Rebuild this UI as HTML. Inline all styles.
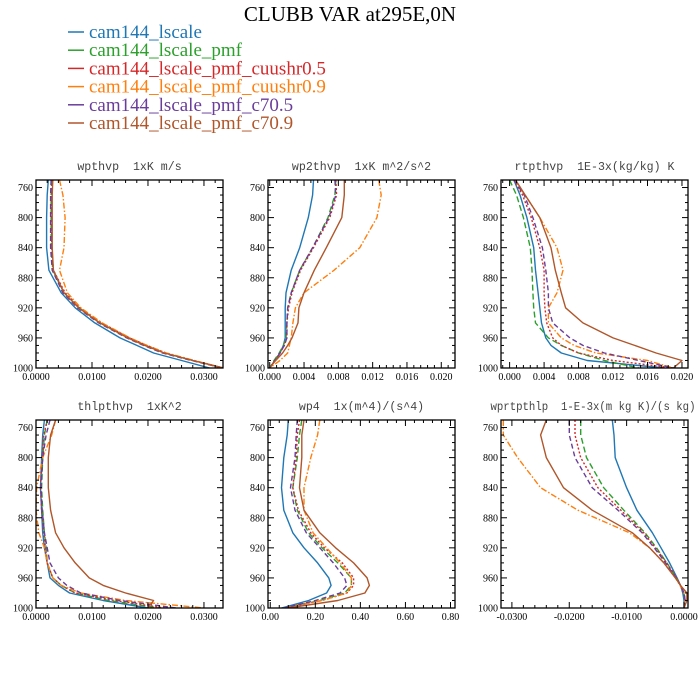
<!DOCTYPE html>
<html><head><meta charset="utf-8"><style>
html,body{margin:0;padding:0;background:#fff;}
svg{display:block;}
.tl{font-family:"Liberation Serif",serif;font-size:10px;fill:#000;}
.pt{font-family:"Liberation Mono","DejaVu Sans Mono",monospace;font-size:11.6px;fill:#444;white-space:pre;}
.lg{font-family:"Liberation Serif",serif;font-size:19px;}
</style></head><body>
<svg id="chart" width="700" height="700" xmlns="http://www.w3.org/2000/svg">
<text x="350" y="21" text-anchor="middle" font-family="Liberation Serif, serif" font-size="21">CLUBB VAR at295E,0N</text>
<g id="legend"></g>
<g id="panels"></g>
</svg>
<script>
const levels=[750,770,800,840,870,900,920,940,960,970,980,990,1000];
const seriesNames=["cam144_lscale","cam144_lscale_pmf","cam144_lscale_pmf_cuushr0.5","cam144_lscale_pmf_cuushr0.9","cam144_lscale_pmf_c70.5","cam144_lscale_pmf_c70.9"];
const colors=["#1f77b4","#2ca02c","#d62728","#ff7f0e","#6a3d9a","#b0562a"];
const dashes=["","6,3","2,2","6,2,1.5,2","5,3","" ];
const panelTitles=["wpthvp  1xK m/s","wp2thvp  1xK m^2/s^2","rtpthvp  1E-3x(kg/kg) K","thlpthvp  1xK^2","wp4  1x(m^4)/(s^4)","wprtpthlp  1-E-3x(m kg K)/(s kg)"];
const xTickVals=[[0,0.01,0.02,0.03],[0,0.004,0.008,0.012,0.016,0.02],[0,0.004,0.008,0.012,0.016,0.02],[0,0.01,0.02,0.03],[0,0.2,0.4,0.6,0.8],[-0.03,-0.02,-0.01,0]];
const xTickLabels=[["0.0000","0.0100","0.0200","0.0300"],["0.000","0.004","0.008","0.012","0.016","0.020"],["0.000","0.004","0.008","0.012","0.016","0.020"],["0.0000","0.0100","0.0200","0.0300"],["0.00","0.20","0.40","0.60","0.80"],["-0.0300","-0.0200","-0.0100","0.0000"]];
const yTickVals=[760,800,840,880,920,960,1000];
// panel 1 wpthvp
const p1blue=[.0022,.002,.0019,.0019,.0023,.0045,.007,.0105,.015,.018,.021,.026,.031];
const p1green=[.0028,.0027,.0027,.0027,.003,.005,.0077,.0115,.0165,.0195,.023,.028,.0335];
const p1red=[.0029,.0028,.0028,.0028,.0031,.0052,.0079,.0117,.0167,.0198,.0232,.0282,.0335];
const p1orange=[.0042,.0048,.0052,.005,.0042,.0056,.008,.0118,.0168,.0198,.0233,.0283,.0335];
const p1purple=[.0027,.0026,.0026,.0026,.0029,.0048,.0074,.0112,.0162,.0192,.0226,.0278,.0333];
const p1brown=[.003,.0029,.0029,.0029,.0031,.005,.0076,.0114,.0164,.0194,.0229,.028,.0334];
// panel 2 wp2thvp
const p2blue=[.0051,.005,.0045,.0035,.0025,.0019,.0018,.0018,.0018,.0016,.0012,.0006,0];
const p2green=[.0077,.0076,.0068,.005,.0035,.0025,.0021,.002,.0019,.0016,.0011,.0005,0];
const p2red=[.0077,.0078,.007,.0051,.0036,.0026,.0022,.002,.002,.0017,.0012,.0006,0];
const p2orange=[.0127,.013,.0125,.0105,.0075,.004,.003,.0027,.0025,.0023,.0021,.0012,0];
const p2purple=[.0076,.0077,.0069,.005,.0035,.0025,.0021,.002,.002,.0017,.0012,.0006,0];
const p2brown=[.0087,.0087,.0084,.0066,.0052,.004,.0034,.0033,.0026,.0021,.0015,.0007,0];
// panel 3 rtpthvp
const p3blue=[.0005,.0012,.002,.0028,.003,.0033,.0035,.0037,.0042,.0048,.006,.009,.018];
const p3green=[0,.0008,.0016,.0024,.0026,.0027,.0028,.003,.0045,.006,.008,.011,.015];
const p3red=[.0005,.0015,.0025,.0035,.004,.004,.0041,.0043,.005,.006,.008,.012,.019];
const p3orange=[.0005,.0018,.0035,.0055,.0062,.0055,.0045,.0045,.006,.0075,.01,.016,.019];
const p3purple=[.0005,.0017,.0027,.0038,.0042,.0045,.0045,.005,.007,.0085,.011,.015,.019];
const p3brown=[.0007,.0018,.0035,.0048,.0053,.006,.0065,.0085,.012,.0145,.017,.02,.019];
// panel 4 thlpthvp
const p4blue=[.0015,.0012,.001,.0008,.001,.0012,.0015,.002,.0025,.004,.006,.012,.02];
const p4green=[.002,.0015,.0012,.001,.0012,.0015,.0018,.002,.003,.0045,.007,.013,.022];
const p4red=[.002,.0014,.0011,.0008,.001,.0014,.0017,.002,.003,.0045,.007,.014,.023];
const p4orange=[.0035,.0028,.0012,.0001,0,.0005,.0015,.002,.003,.0045,.008,.016,.03];
const p4purple=[.0025,.0018,.0012,.0009,.0011,.0015,.002,.0025,.004,.0055,.008,.015,.025];
const p4brown=[.0035,.0026,.0022,.0022,.0026,.0035,.005,.007,.0095,.012,.016,.021,.02];
// panel 5 wp4
const p5blue=[.08,.075,.06,.05,.06,.1,.15,.21,.26,.27,.25,.17,.05];
const p5green=[.14,.13,.12,.1,.12,.17,.23,.3,.36,.36,.33,.22,.06];
const p5red=[.13,.12,.115,.1,.125,.18,.24,.32,.37,.37,.34,.23,.06];
const p5orange=[.22,.21,.18,.15,.15,.19,.25,.31,.36,.36,.34,.23,.06];
const p5purple=[.12,.115,.11,.09,.11,.16,.22,.28,.33,.34,.31,.2,.06];
const p5brown=[.15,.14,.14,.13,.15,.22,.29,.37,.43,.44,.42,.3,.08];
// panel 6 wprtpthlp
const p6blue=[-.0125,-.0122,-.012,-.01,-.0082,-.0055,-.004,-.0025,-.0012,-.0006,-.0002,0,0];
const p6green=[-.018,-.018,-.017,-.014,-.0105,-.0068,-.0048,-.003,-.0013,-.0006,0,.0002,0];
const p6red=[-.019,-.019,-.018,-.015,-.011,-.007,-.005,-.003,-.0013,-.0006,0,.0002,0];
const p6orange=[-.0315,-.0315,-.029,-.025,-.0185,-.0095,-.006,-.0035,-.0015,-.0007,0,.0002,0];
const p6purple=[-.02,-.02,-.019,-.016,-.0115,-.0073,-.0052,-.0032,-.0014,-.0006,0,.0002,0];
const p6brown=[-.024,-.025,-.024,-.021,-.016,-.009,-.006,-.0035,-.0015,-.0006,.0005,.0005,0];
const panelSeries=[
 [p1blue,p1green,p1red,p1orange,p1purple,p1brown],
 [p2blue,p2green,p2red,p2orange,p2purple,p2brown],
 [p3blue,p3green,p3red,p3orange,p3purple,p3brown],
 [p4blue,p4green,p4red,p4orange,p4purple,p4brown],
 [p5blue,p5green,p5red,p5orange,p5purple,p5brown],
 [p6blue,p6green,p6red,p6orange,p6purple,p6brown]];
const xDomains=[[0,0.0334],[-0.0002,0.0216],[-0.001,0.0207],[0,0.0334],[-0.01,0.82],[-0.0319,0.0007]];
const yDomain=[750,1000];
const NS="http://www.w3.org/2000/svg";
function mk(tag,attrs,parent){const e=document.createElementNS(NS,tag);for(const k in attrs)e.setAttribute(k,attrs[k]);parent.appendChild(e);return e;}
const legend=document.getElementById('legend');
seriesNames.forEach((n,i)=>{
 const y=38+i*18.2;
 const ln=mk('line',{x1:68,x2:84,y1:y-6,y2:y-6,stroke:colors[i],'stroke-width':1.5},legend);
 
 
 const t=mk('text',{x:89,y:y,class:'lg',fill:colors[i]},legend);
 t.textContent=n;
 
 
});
const panels=document.getElementById('panels');
const lefts=[36,268,501],tops=[180,420],W=187,H=188;
for(let pi=0;pi<6;pi++){
 const L=lefts[pi%3],T=tops[Math.floor(pi/3)];
 const g=mk('g',{},panels);
 
 
 const [x0,x1]=xDomains[pi];
 const xs=v=>L+(v-x0)/(x1-x0)*W;
 const ys=p=>T+(p-yDomain[0])/(yDomain[1]-yDomain[0])*H;
 const ta={x:L+W/2,y:T-10,'text-anchor':'middle',class:'pt'};
 if(pi===5){ta.x=593;ta.textLength=205;ta.lengthAdjust='spacingAndGlyphs';}
 const title=mk('text',ta,g);
 title.textContent=panelTitles[pi];
 
 
 const cp=mk('clipPath',{id:'cp'+pi},g);
 mk('rect',{x:L,y:T,width:W,height:H},cp);
 const lg=mk('g',{'clip-path':'url(#cp'+pi+')'},g);
 panelSeries[pi].forEach((vals,si)=>{
  const pts=vals.map((v,k)=>xs(v).toFixed(1)+','+ys(levels[k]).toFixed(1)).join(' ');
  const a={points:pts,fill:'none',stroke:colors[si],'stroke-width':1.4,'stroke-linejoin':'round'};
  if(dashes[si])a['stroke-dasharray']=dashes[si];
  const pl=mk('polyline',a,lg);
  
  
 });
 const fr=mk('rect',{x:L,y:T,width:W,height:H,fill:'none',stroke:'#000','stroke-width':1.3},g);
 
 
 for(let p=760;p<=1000;p+=10){
  const y=ys(p),len=(p%40===0)?6:3;
  mk('line',{x1:L,x2:L+len,y1:y,y2:y,stroke:'#000','stroke-width':1},g);
  mk('line',{x1:L+W,x2:L+W-len,y1:y,y2:y,stroke:'#000','stroke-width':1},g);
 }
 yTickVals.forEach(p=>{
  const t=mk('text',{x:L-3,y:ys(p)+3.5,'text-anchor':'end',class:'tl'},g);
  t.textContent=p;
  
  
 });
 const tv=xTickVals[pi],step=tv[1]-tv[0],minor=step/5;
 for(let v=tv[0]-5*minor;v<=x1+1e-12;v+=minor){
  if(v<x0-1e-12)continue;
  const k=Math.round((v-tv[0])/minor),len=(k%5===0)?6:3,x=xs(v);
  mk('line',{x1:x,x2:x,y1:T+H,y2:T+H-len,stroke:'#000','stroke-width':1},g);
  mk('line',{x1:x,x2:x,y1:T,y2:T+len,stroke:'#000','stroke-width':1},g);
 }
 tv.forEach((v,k)=>{
  const t=mk('text',{x:xs(v),y:T+H+12,'text-anchor':'middle',class:'tl'},g);
  t.textContent=xTickLabels[pi][k];
  
  
 });
}
</script>
</body></html>
